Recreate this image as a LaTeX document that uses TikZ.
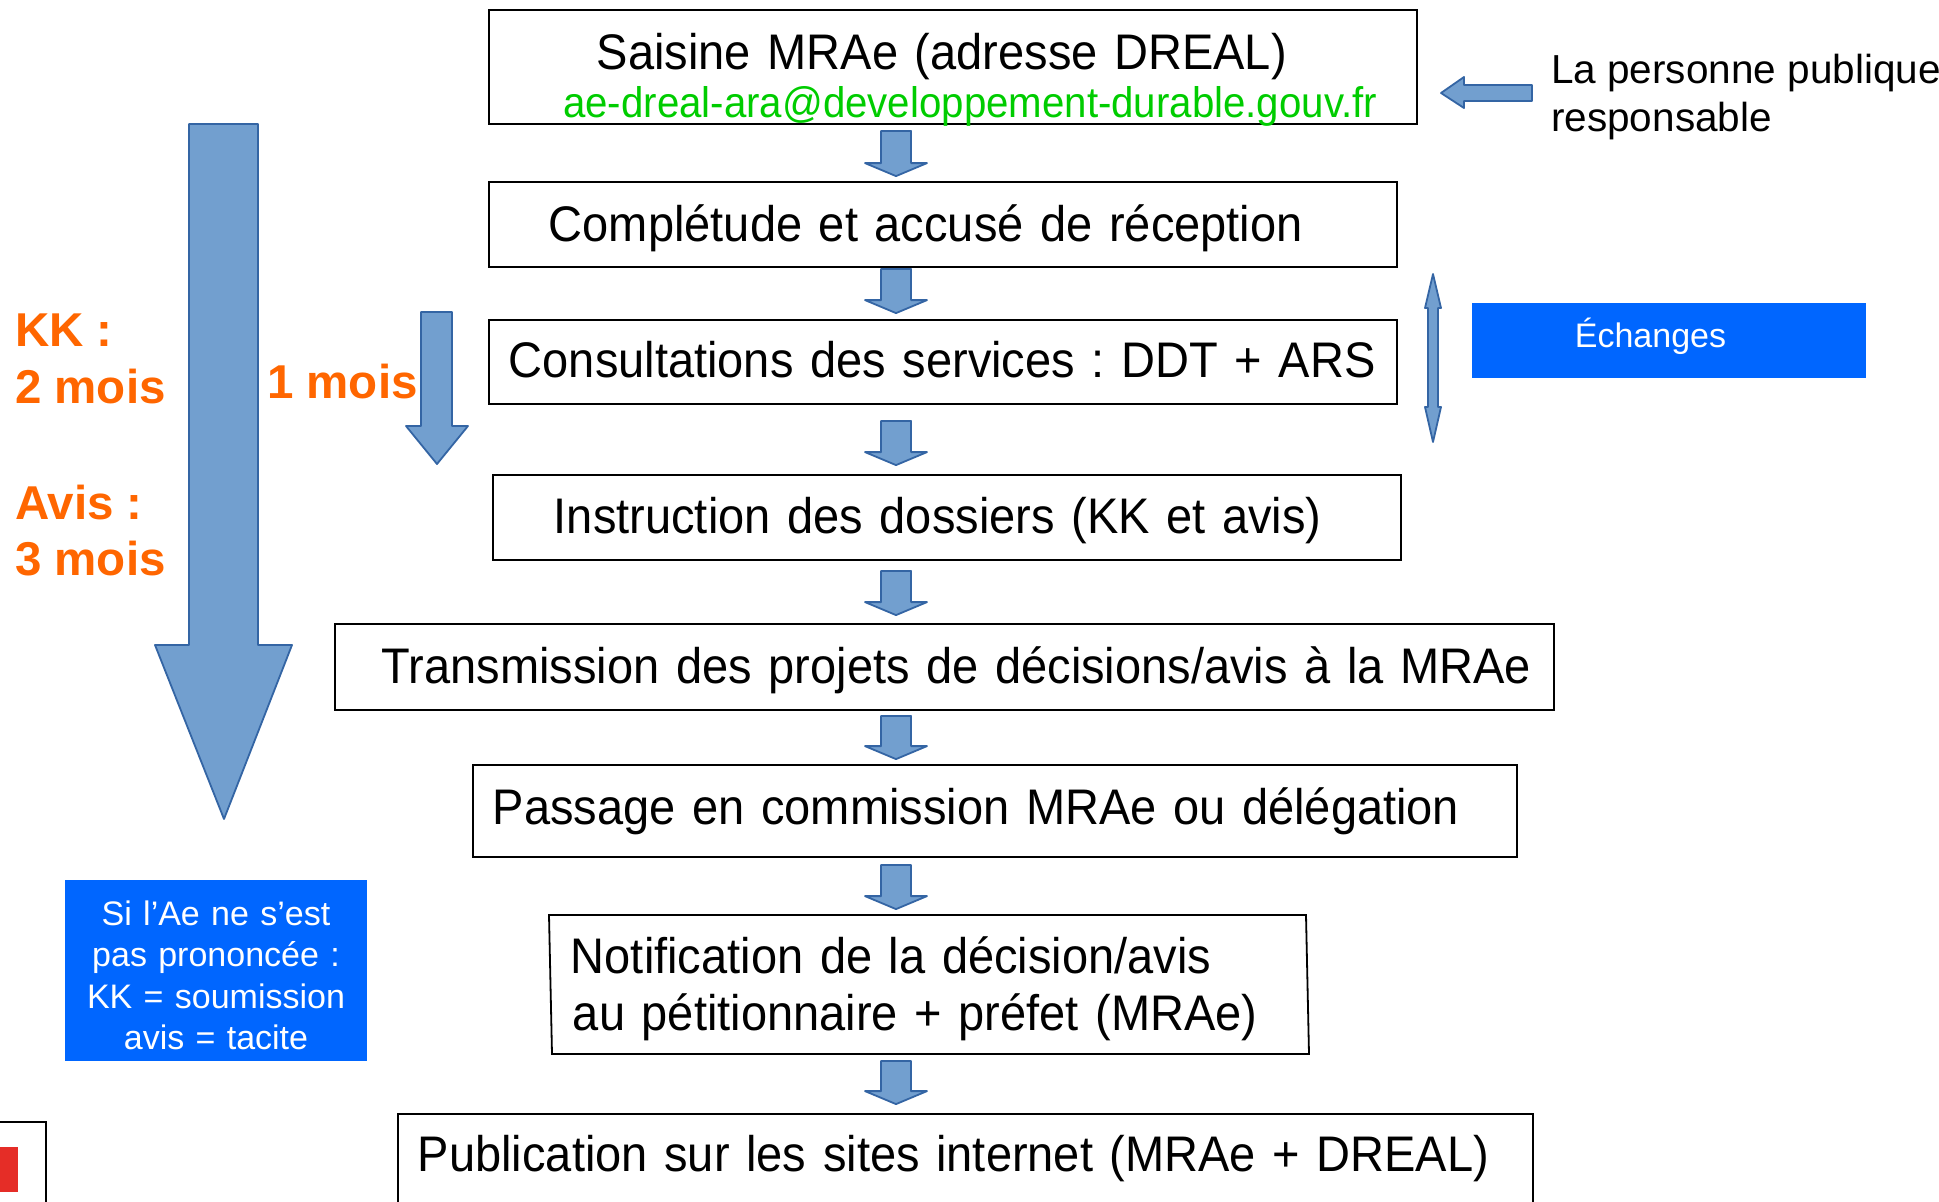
\documentclass[tikz,border=0pt]{standalone}
\usepackage{fontspec}
\setmainfont{Liberation Sans}
\newfontfamily\narrowfont[FakeStretch=0.94]{Liberation Sans}
\usetikzlibrary{calc}
\definecolor{arrowfill}{RGB}{114,159,207}
\definecolor{arrowline}{RGB}{52,101,164}
\definecolor{echblue}{RGB}{0,102,255}
\definecolor{delayorange}{RGB}{255,102,0}
\definecolor{mailgreen}{RGB}{0,204,0}
\definecolor{logored}{RGB}{229,45,39}
\newcommand{\bodyfont}{\narrowfont\fontsize{50pt}{57pt}\selectfont}
\newcommand{\smallfont}{\fontsize{34pt}{41.5pt}\selectfont}
\tikzset{
  boxnode/.style n args={3}{draw=black,line width=1.8pt,anchor=west,inner sep=0pt,align=left,
    text width=#1,minimum height=#2,text depth=0pt,font=\bodyfont,execute at begin node={\hspace*{#3}}},
  blockarrow/.style={fill=arrowfill,draw=arrowline,line width=1.8pt,line join=round},
  delaytext/.style={anchor=base west,inner sep=0pt,align=left,text=delayorange,font=\fontsize{47.5pt}{57pt}\selectfont\bfseries},
  bluetext/.style={fill=echblue,text=white,inner sep=0pt,font=\smallfont},
  sidetext/.style={anchor=base west,inner sep=0pt,font=\fontsize{40.5pt}{48pt}\selectfont},
}
\begin{document}
\frenchspacing
\begin{tikzpicture}[x=1pt,y=-1pt]
\useasboundingbox (0,0) rectangle (1939,1202);
\coordinate (mid) at (896,0);
\node[boxnode={928pt}{114pt}{108pt},text height=36pt,text depth=32pt] (saisine) at (488,67) {Saisine MRAe (adresse DREAL)};
\node[anchor=base west,inner sep=0pt,text=mailgreen,font=\narrowfont\fontsize{42.8pt}{48pt}\selectfont] (mail) at (563,117) {ae-dreal-ara@developpement-durable.gouv.fr};
\node[boxnode={908pt}{85pt}{60pt},text height=33pt] (complet) at (488,224.5) {Complétude et accusé de réception};
\node[boxnode={908pt}{84pt}{20pt},text height=30pt] (consult) at (488,362) {Consultations des services : DDT + ARS};
\node[boxnode={908pt}{85pt}{61pt},text height=31pt] (instruct) at (492,517.5) {Instruction des dossiers (KK et avis)};
\node[boxnode={1219pt}{86pt}{47pt},text height=32pt] (transmis) at (334,667) {Transmission des projets de décisions/avis à la MRAe};
\node[boxnode={1044pt}{92pt}{20pt},text height=26pt] (passage) at (472,811) {Passage en commission MRAe ou délégation};
\node[boxnode={758pt}{139pt}{20pt},draw=none,text height=36pt,text depth=59pt] (notif) at (550,984.5) {Notification de la décision/avis\\\hspace*{22pt}au pétitionnaire + préfet (MRAe)};
\draw[line width=1.8pt] (549,915) -- (1306,915) -- (1309,1054) -- (552,1054) -- cycle;
\node[boxnode={1135pt}{116pt}{20pt},text height=36pt,text depth=38pt] (publi) at (397,1172) {Publication sur les sites internet (MRAe + DREAL)};
\foreach \a/\b/\g/\h in {saisine/complet/6/5,complet/consult/1/6,consult/instruct/16/9,instruct/transmis/10/8,transmis/passage/5/5,passage/notif/7/5,notif/publi/6/9}{
  \coordinate (top) at (\a.south -| mid);
  \coordinate (tip) at (\b.north -| mid);
  \draw[blockarrow] ($(top)+(-15,\g)$) -- ($(top)+(15,\g)$) -- ($(tip)+(15,-\h-13)$) -- ($(tip)+(31,-\h-13)$) -- ($(tip)+(0,-\h)$) -- ($(tip)+(-31,-\h-13)$) -- ($(tip)+(-15,-\h-13)$) -- cycle;
}
\draw[blockarrow] (189,124) -- (258,124) -- (258,645) -- (292,645) -- (224,819) -- (155,645) -- (189,645) -- cycle;
\draw[blockarrow] (421,312) -- (452,312) -- (452,426) -- (468,426) -- (437,464) -- (406,426) -- (421,426) -- cycle;
\draw[blockarrow] (1532,85) -- (1464,85) -- (1464,77) -- (1441,93) -- (1464,108) -- (1464,101) -- (1532,101) -- cycle;
\draw[blockarrow] (1433,274) -- (1441,308) -- (1438,308) -- (1438,407) -- (1441,407) -- (1433,442) -- (1425,407) -- (1428,407) -- (1428,308) -- (1425,308) -- cycle;
\node[sidetext] (personne) at (1551,83) {La personne publique};
\node[sidetext] (respons) at (1551,131) {responsable};
\node[boxnode={394pt}{75pt}{103pt},bluetext,draw=none,text height=13pt] (echange) at (1471,340.5) {Échanges};
\node[bluetext,align=center,text width=302pt,minimum height=181pt,text height=24pt,text depth=115pt] (silence) at (216,970.5) {Si l’Ae ne s’est\\pas prononcée :\\KK = soumission\\avis = tacite};
\node[delaytext] (kk) at (15,346) {KK :};
\node[delaytext] (kkmois) at (15,403) {2 mois};
\node[delaytext] (avis) at (15,519) {Avis :};
\node[delaytext] (avismois) at (15,575) {3 mois};
\node[delaytext] (unmois) at (267,398) {1 mois};
\draw[line width=1.8pt] (-5,1122) rectangle (46,1210);
\fill[logored] (-5,1147) rectangle (18,1192);
\end{tikzpicture}
\end{document}
